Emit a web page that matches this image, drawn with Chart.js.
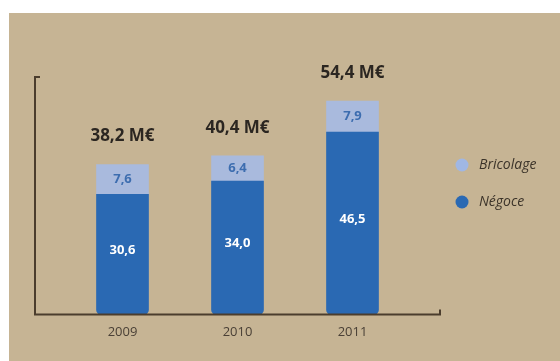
<!DOCTYPE html>
<html>
<head>
<meta charset="utf-8">
<script src="https://cdn.jsdelivr.net/npm/chart.js@4"></script>
<style>
  html, body { margin: 0; padding: 0; background: #ffffff; }
  #panel { position: absolute; left: 9px; top: 13px; width: 551px; height: 348px; background: #c6b494; }
  #wrap { position: absolute; left: 0; top: 0; width: 560px; height: 361px; }
</style>
</head>
<body>
<div id="panel"></div>
<div id="wrap"><canvas id="chart"></canvas></div>
<script>
// years and revenue split (M€)
const years = ['2009', '2010', '2011'];
const negoce = [30.6, 34.0, 46.5];
const bricolage = [7.6, 6.4, 7.9];
const totals = [38.2, 40.4, 54.4];

const negoceColor = '#2a69b3';
const bricolageColor = '#a9badd';

function fmt(v){
    return v.toFixed(1).replace('.', ',');
};

// L-shaped axis lines with small end ticks
const axisLines = {
    id: 'axisLines',
    afterDraw(chart){
        let ctx = chart.ctx;
        let a = chart.chartArea;
        let left = a.left - 30, right = a.right + 30;
        ctx.save();
        ctx.strokeStyle = '#4b3d2d';
        ctx.lineWidth = 2;
        ctx.beginPath();
        ctx.moveTo(left + 5, a.top - 2);
        ctx.lineTo(left, a.top - 2);
        ctx.lineTo(left, a.bottom);
        ctx.lineTo(right, a.bottom);
        ctx.lineTo(right, a.bottom - 5);
        ctx.stroke();
        ctx.restore();
    }
};

// values inside segments and totals above bars
const valueLabels = {
    id: 'valueLabels',
    afterDatasetsDraw(chart){
        let ctx = chart.ctx;
        let metaN = chart.getDatasetMeta(0);
        let metaB = chart.getDatasetMeta(1);
        ctx.save();
        ctx.textAlign = 'center';
        ctx.textBaseline = 'middle';
        metaN.data.forEach(function(bar, i){
            ctx.font = 'bold 13px "Open Sans"';
            ctx.fillStyle = '#ffffff';
            ctx.fillText(fmt(negoce[i]), bar.x, (bar.y + bar.base) / 2 - 4);
            let top = metaB.data[i];
            ctx.fillStyle = '#3d6daf';
            ctx.fillText(fmt(bricolage[i]), top.x, (top.y + top.base) / 2);
            ctx.font = 'bold 17px "Open Sans"';
            ctx.fillStyle = '#2b2621';
            ctx.fillText(fmt(totals[i]) + ' M€', top.x, top.y - 28);
        });
        ctx.restore();
    }
};

// legend on the right, drawn from the datasets
const sideLegend = {
    id: 'sideLegend',
    afterDraw(chart){
        let ctx = chart.ctx;
        let items = [chart.data.datasets[1], chart.data.datasets[0]];
        ctx.save();
        ctx.textBaseline = 'middle';
        ctx.textAlign = 'left';
        ctx.font = 'italic 14px "Open Sans"';
        items.forEach(function(ds, i){
            let y = 165 + i * 37;
            ctx.fillStyle = ds.legendColor;
            ctx.beginPath();
            ctx.arc(462, y, 6.5, 0, Math.PI * 2);
            ctx.fill();
            ctx.fillStyle = '#3b3329';
            ctx.fillText(ds.label, 479, y);
        });
        ctx.restore();
    }
};

let ctx = document.getElementById('chart').getContext('2d');
let myChart = new Chart(ctx, {
    type: 'bar',
    data: {
        labels: years,
        datasets: [{
            label: 'Négoce',
            data: negoce,
            backgroundColor: negoceColor,
            legendColor: '#2a69b3',
            borderRadius: {topLeft: 0, topRight: 0, bottomLeft: 5, bottomRight: 5},
            borderSkipped: false,
            barThickness: 52
        }, {
            label: 'Bricolage',
            data: bricolage,
            backgroundColor: bricolageColor,
            legendColor: '#a0b7e4',
            borderRadius: 0,
            barThickness: 52
        }]
    },
    options: {
        responsive: true,
        maintainAspectRatio: false,
        animation: false,
        layout: {
            padding: {left: 65, right: 150, top: 79, bottom: 19}
        },
        plugins: {
            legend: {display: false},
            tooltip: {enabled: false}
        },
        scales: {
            x: {
                stacked: true,
                grid: {display: false},
                border: {display: false},
                ticks: {
                    color: '#4a4036',
                    font: {family: 'Open Sans', size: 13},
                    padding: 2
                }
            },
            y: {
                stacked: true,
                display: false,
                min: 0,
                max: 60
            }
        }
    },
    plugins: [axisLines, valueLabels, sideLegend]
});
</script>
</body>
</html>
